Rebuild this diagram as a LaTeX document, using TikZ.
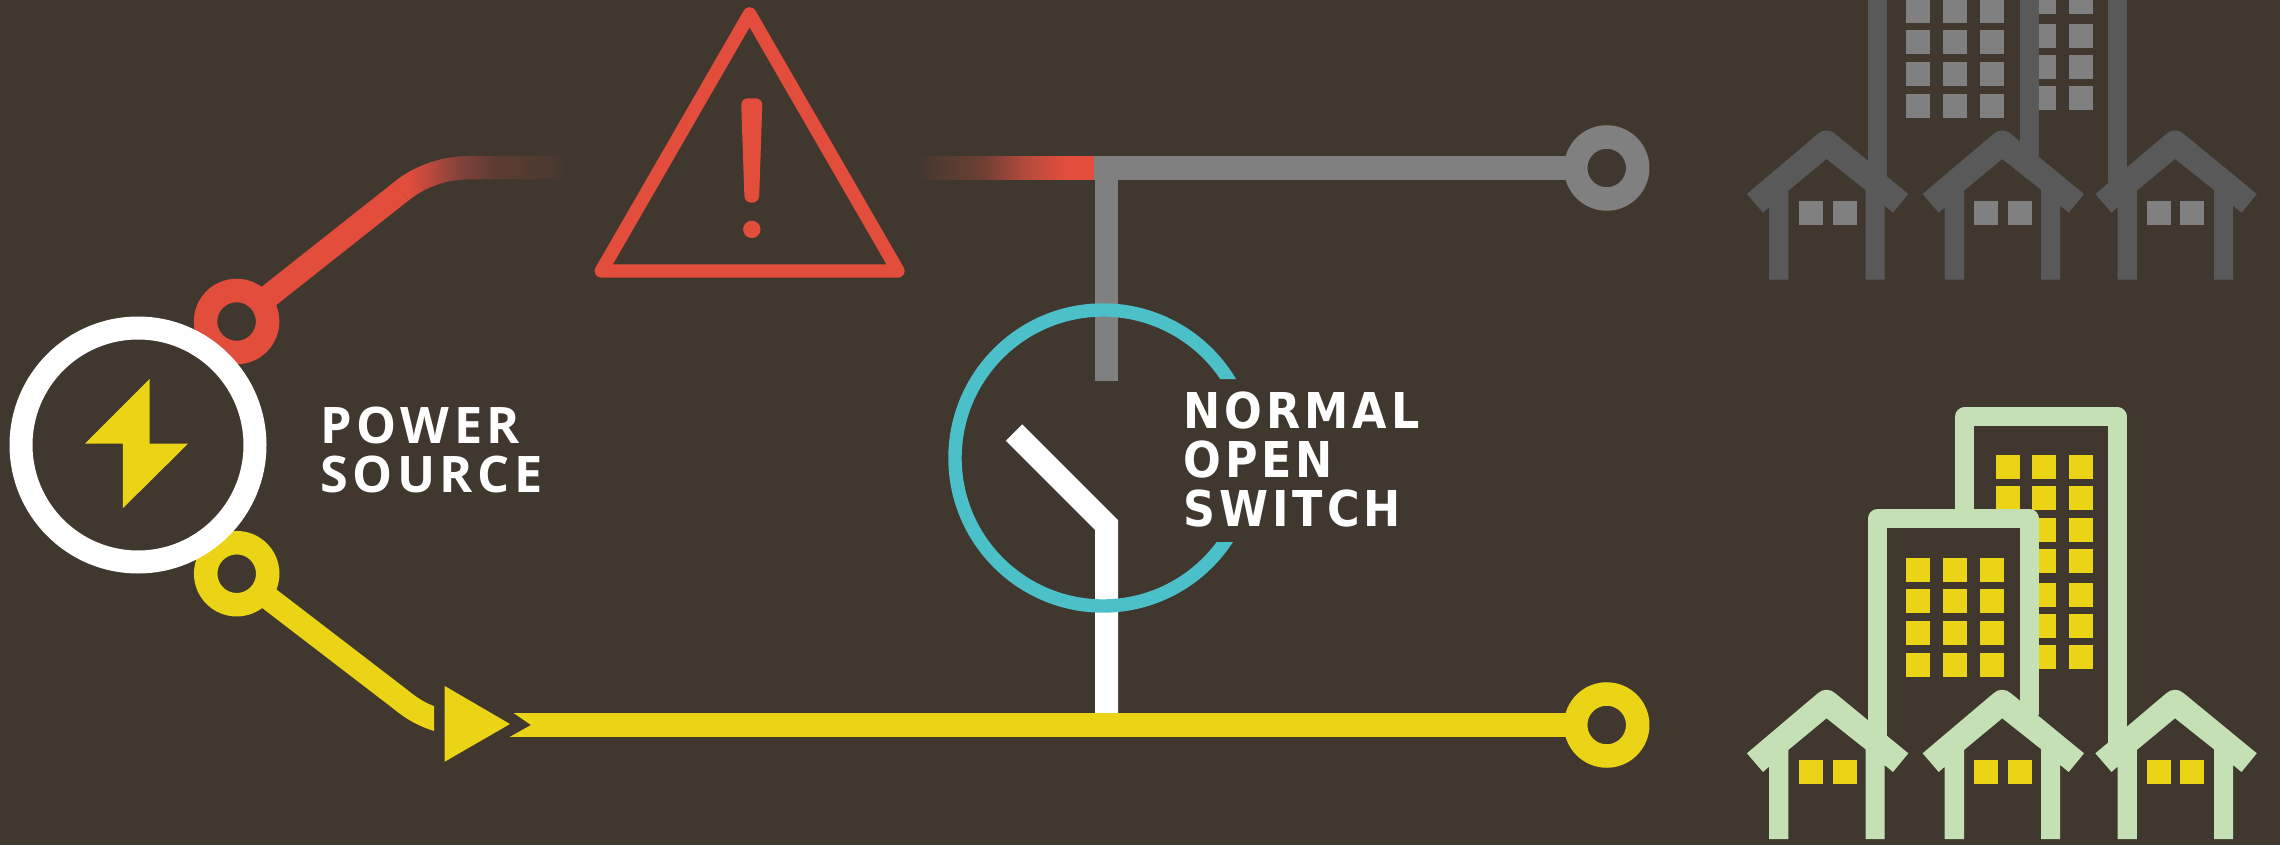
\documentclass[tikz,border=0pt]{standalone}
\usepackage{fontspec}
\newfontfamily\powerfont[LetterSpace=9]{Open Sans}
\newfontfamily\switchfont[LetterSpace=8]{DejaVu Sans Condensed}
\definecolor{bgc}{HTML}{40372F}
\definecolor{redc}{HTML}{E34D3C}
\definecolor{fadeA}{HTML}{82433A}
\definecolor{fadeB}{HTML}{5B3B32}
\definecolor{fadeC}{HTML}{4D3A30}
\definecolor{fadeD}{HTML}{B34A3C}
\definecolor{fadeE}{HTML}{6F3F33}
\definecolor{yelc}{HTML}{EBD316}
\definecolor{tealc}{HTML}{4BC0C8}
\definecolor{grayc}{HTML}{808080}
\definecolor{wallgray}{HTML}{595959}
\definecolor{wallgreen}{HTML}{C5E0B4}
\pgfdeclarehorizontalshading{redfadeout}{100bp}{color(0bp)=(redc); color(29.2bp)=(redc); color(44bp)=(fadeA); color(55bp)=(fadeB); color(70bp)=(fadeC); color(75bp)=(bgc); color(100bp)=(bgc)}
\pgfdeclarehorizontalshading{redfadein}{100bp}{color(0bp)=(bgc); color(25bp)=(bgc); color(30bp)=(fadeC); color(47bp)=(fadeE); color(61bp)=(fadeD); color(75bp)=(redc); color(100bp)=(redc)}
\tikzset{
  pxw/.style={line width=#1*0.5pt},
  ring/.style={circle,draw=#1,fill=bgc,pxw=23.5,minimum size=62*0.5pt,inner sep=0pt},
  wire/.style={draw=#1,pxw=23.4,line cap=butt},
  label/.style={text=white,align=left,inner sep=0pt,anchor=north west,font=\bfseries\fontsize{25.2pt}{24.4pt}\selectfont},
  switchlabelstyle/.style={label,font=\bfseries\fontsize{24.7pt}{24.5pt}\selectfont},
}
% windows: colour, list of x, list of y
\newcommand{\windowgrid}[3]{\foreach \wx in {#2}{\foreach \wy in {#3}{\fill[#1] (\wx,\wy) rectangle ++(24,24);}}}
\newcommand{\cityhouse}[3]{%
  \begin{scope}[shift={(#1,0)}]
    \fill[#2] (-57.5,839) -- (-57.5,766.7) -- (-63.5,772) -- (-79.6,753.3) -- (-9,693.5)
      .. controls (-4,688.5) and (4,688.5) .. (9,693.5) -- (81.8,753.3) -- (66.5,772) -- (58,765)
      -- (58,839) -- (39,839) -- (39,749.3) -- (0,718.3) -- (-38.2,750) -- (-38.2,839) -- cycle;
  \end{scope}%
}
\newcommand{\cityblock}[2]{%
  \draw[#1,pxw=19,line join=round] (1964.7,530) -- (1964.7,416.7) -- (2117.2,416.7) -- (2117.2,750);
  \windowgrid{#2}{1996,2032,2069}{455,486,518,549,583,614,645}
  \filldraw[draw=#1,fill=bgc,pxw=19,line join=round] (1877.3,740) -- (1877.3,518.8) -- (2029.8,518.8) -- (2029.8,715);
  \windowgrid{#2}{1906,1943,1980}{558,589,621,653}
  \cityhouse{1826.5}{#1}{#2}
  \cityhouse{2002.2}{#1}{#2}
  \cityhouse{2175}{#1}{#2}
  \windowgrid{#2}{1799,1833,1974,2008,2147,2180}{760}
}
\begin{document}
\begin{tikzpicture}[x=0.5pt,y=-0.5pt]
\useasboundingbox (0,0) rectangle (2280,845);
\clip (0,0) rectangle (2280,845);
\fill[bgc] (0,0) rectangle (2280,845);

% red feeder
\node[ring=redc] (redring) at (236.6,321.5) {};
\coordinate (redknee) at (401,191.5);
\draw[wire=redc,shorten <=-2pt] (redring) -- (redknee);
\shade[shading=redfadeout]
  (393.6,182.4) .. controls (418,162.5) and (447,156) .. (469,156) -- (566,156) -- (566,179.4) -- (469,179.4)
  .. controls (447,179.4) and (425,187) .. (408.4,200.6) -- cycle;

% yellow feeder
\node[ring=yelc] (yelring) at (236.7,573.7) {};
\coordinate (yelknee) at (400,699);
\coordinate (yelcut) at (440,720.5);
\begin{scope}
  \clip (150,500) rectangle (434,800);
  \draw[wire=yelc,shorten <=-2pt] (yelring) -- (yelknee) .. controls (412,709) and (424,716) .. (yelcut);
\end{scope}

% switch and gray branch
\coordinate (switchtip) at (1014,432.5);
\coordinate (switchelbow) at (1106.5,525);
\coordinate (switchfoot) at (1106.5,714);
\draw[white,pxw=23,miter limit=4] (switchfoot) -- (switchelbow) -- (switchtip);

% yellow main line
\node[ring=yelc] (yelend) at (1606.7,725) {};
\coordinate (yelstart) at (508,725);
\draw[wire=yelc,shorten >=-2pt] (yelstart) -- (yelend);
\fill[bgc] (507,712) -- (513.3,713) -- (530.7,725) -- (509.3,737) -- (507,738) -- cycle;
\fill[yelc] (444.7,686) -- (510,724) -- (444.7,761.7) -- cycle;

% gray line with red fade
\node[ring=grayc] (grayend) at (1606.7,168) {};
\coordinate (grayjoin) at (1094,168);
\coordinate (graybranch) at (1106.5,168);
\coordinate (graystub) at (1106.5,380.7);
\draw[wire=grayc,shorten >=-2pt] (grayjoin) -- (grayend);
\draw[wire=grayc] (graybranch) -- (graystub);
\fill[redc] (1066,156.3) rectangle (1094,179.7);
\shade[shading=redfadein] (919,156.3) rectangle (1066,179.7);

% switch circle
\begin{scope}
  \clip (900,280) rectangle (1300,379) (900,542) rectangle (1300,640) (900,379) rectangle (1103,542);
  \node[circle,draw=tealc,pxw=13.4,minimum size=296*0.5pt,inner sep=0pt] (switchring) at (1103,458) {};
\end{scope}

% power source
\node[circle,draw=white,fill=bgc,pxw=23,minimum size=234*0.5pt,inner sep=0pt] (source) at (138,445) {};
\fill[yelc] (149.6,379) -- (85,443.7) -- (122.8,443.7) -- (122.8,508.3) -- (188,443.7) -- (149.6,443.7) -- cycle;

% warning triangle
\draw[redc,pxw=13.4,line join=round] (749.6,13.9) -- (898,271) -- (601.3,271) -- cycle;
\fill[redc,rounded corners=3.4pt] (741,98.3) -- (762.5,98.3) -- (759,202.7) -- (744.6,202.7) -- cycle;
\fill[redc] (751.8,229.4) circle[radius=8.7];

% labels
\node[label] (powerlabel) at (320,407) {\powerfont POWER\\\powerfont SOURCE};
\node[switchlabelstyle] (switchlabel) at (1183,391) {\switchfont NORMAL\\\switchfont OPEN\\\switchfont SWITCH};

% buildings
\cityblock{wallgreen}{yelc}
\begin{scope}[shift={(0,-559.3)}]
  \cityblock{wallgray}{grayc}
\end{scope}
\end{tikzpicture}
\end{document}
